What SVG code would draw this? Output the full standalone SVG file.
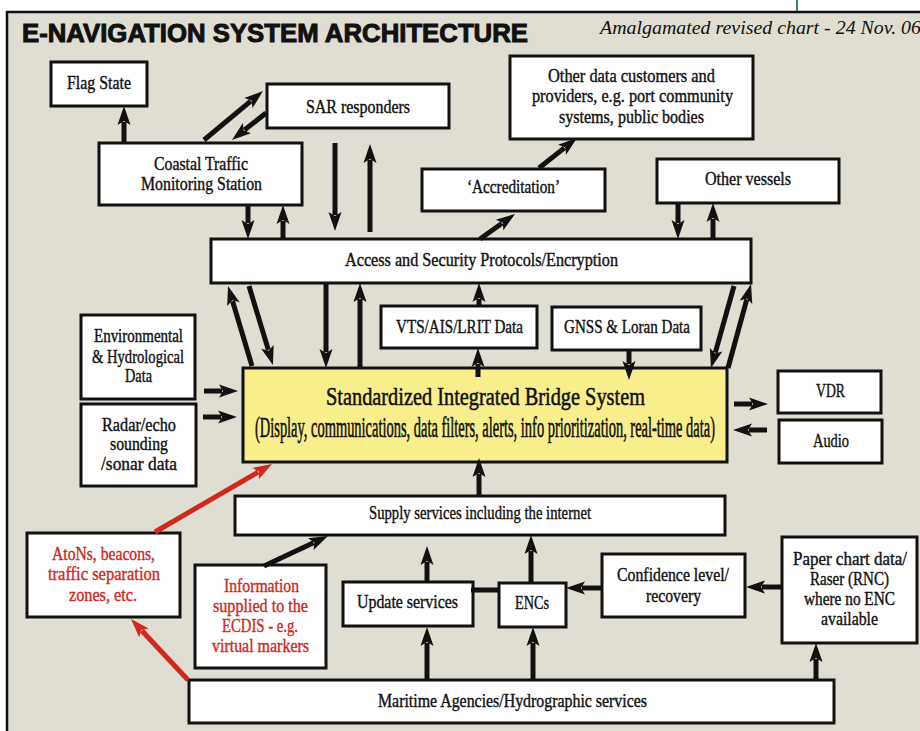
<svg xmlns="http://www.w3.org/2000/svg" width="920" height="731" viewBox="0 0 920 731">
<style>
.box{fill:#fff;stroke:#111;stroke-width:3}
.sibs{fill:#f8ef8c;stroke:#111;stroke-width:3}
.t{font-family:"Liberation Serif","Times New Roman",serif;font-size:19px;fill:#111;stroke:#111;stroke-width:0.4}
.red{fill:#cc2a1e;stroke:#cc2a1e}
.c{stroke:#111;stroke-width:5;fill:none;marker-end:url(#ah)}
.cr{stroke:#d0281c;stroke-width:5;fill:none;marker-end:url(#ahr)}
</style>
<defs>
<marker id="ah" markerUnits="userSpaceOnUse" viewBox="-20 -20 40 40" markerWidth="40" markerHeight="40" refX="0" refY="0" orient="auto" overflow="visible">
<path d="M16,0 L-3,-6.5 L1,0 L-3,6.5 Z" fill="#111"/>
</marker>
<marker id="ahr" markerUnits="userSpaceOnUse" viewBox="-20 -20 40 40" markerWidth="40" markerHeight="40" refX="0" refY="0" orient="auto" overflow="visible">
<path d="M16,0 L-3,-6.5 L1,0 L-3,6.5 Z" fill="#d0281c"/>
</marker>
</defs>
<rect x="0" y="0" width="920" height="731" fill="#fff"/>
<rect x="7" y="12" width="940" height="740" fill="#e0ddd2" stroke="#111" stroke-width="2.5"/>
<line x1="797" y1="0" x2="797" y2="11" stroke="#3d7f75" stroke-width="2"/>
<text x="22" y="42" font-family="'Liberation Sans',Arial,sans-serif" font-weight="bold" font-size="26.5" textLength="506" lengthAdjust="spacingAndGlyphs" fill="#111" stroke="#111" stroke-width="1">E-NAVIGATION SYSTEM ARCHITECTURE</text>
<text x="600" y="34" font-family="'Liberation Serif','Times New Roman',serif" font-style="italic" font-size="19" textLength="321" lengthAdjust="spacingAndGlyphs" fill="#111">Amalgamated revised chart - 24 Nov. 06</text>

<g id="flag-state"><rect class="box" x="51" y="62" width="96" height="44"/><text class="t" x="67" y="89" textLength="64" lengthAdjust="spacingAndGlyphs">Flag State</text></g>
<g id="sar-responders"><rect class="box" x="267" y="84" width="182" height="44"/><text class="t" x="306" y="113" textLength="104" lengthAdjust="spacingAndGlyphs">SAR responders</text></g>
<g id="coastal-traffic"><rect class="box" x="99" y="143" width="203" height="62"/><text class="t" x="154" y="170" textLength="94" lengthAdjust="spacingAndGlyphs">Coastal Traffic</text><text class="t" x="141" y="190" textLength="121" lengthAdjust="spacingAndGlyphs">Monitoring Station</text></g>
<g id="other-data"><rect class="box" x="510" y="56" width="243" height="83"/><text class="t" x="548" y="82" textLength="167" lengthAdjust="spacingAndGlyphs">Other data customers and</text><text class="t" x="532" y="102" textLength="201" lengthAdjust="spacingAndGlyphs">providers, e.g. port community</text><text class="t" x="559" y="123" textLength="145" lengthAdjust="spacingAndGlyphs">systems, public bodies</text></g>
<g id="accreditation"><rect class="box" x="422" y="169" width="183" height="42"/><text class="t" x="467" y="193" textLength="93" lengthAdjust="spacingAndGlyphs">‘Accreditation’</text></g>
<g id="other-vessels"><rect class="box" x="657" y="159" width="182" height="44"/><text class="t" x="705" y="185" textLength="86" lengthAdjust="spacingAndGlyphs">Other vessels</text></g>
<g id="access-security"><rect class="box" x="211" y="239" width="540" height="44"/><text class="t" x="345" y="266" textLength="273" lengthAdjust="spacingAndGlyphs">Access and Security Protocols/Encryption</text></g>
<g id="vts-ais-lrit"><rect class="box" x="381" y="306" width="156" height="42"/><text class="t" x="396" y="333" textLength="127" lengthAdjust="spacingAndGlyphs">VTS/AIS/LRIT Data</text></g>
<g id="gnss-loran"><rect class="box" x="552" y="307" width="149" height="43"/><text class="t" x="564" y="333" textLength="126" lengthAdjust="spacingAndGlyphs">GNSS &amp; Loran Data</text></g>
<g id="environmental"><rect class="box" x="81" y="315" width="114" height="84"/><text class="t" x="94" y="342" textLength="89" lengthAdjust="spacingAndGlyphs">Environmental</text><text class="t" x="92" y="363" textLength="92" lengthAdjust="spacingAndGlyphs">&amp; Hydrological</text><text class="t" x="125" y="382" textLength="27" lengthAdjust="spacingAndGlyphs">Data</text></g>
<g id="radar-echo"><rect class="box" x="81" y="404" width="115" height="82"/><text class="t" x="102" y="431" textLength="74" lengthAdjust="spacingAndGlyphs">Radar/echo</text><text class="t" x="110" y="450" textLength="58" lengthAdjust="spacingAndGlyphs">sounding</text><text class="t" x="101" y="470" textLength="76" lengthAdjust="spacingAndGlyphs">/sonar data</text></g>
<g id="sibs"><rect class="sibs" x="243" y="368" width="484" height="94"/><text class="t" transform="translate(326,405) scale(1,1.36)" x="0" y="0" font-size="22" stroke-width="0.6" textLength="319" lengthAdjust="spacingAndGlyphs">Standardized Integrated Bridge System</text><text class="t" transform="translate(255,437) scale(1,1.5)" x="0" y="0" font-size="12" stroke-width="0.3" textLength="460" lengthAdjust="spacingAndGlyphs">(Display, communications, data filters, alerts, info prioritization, real-time data)</text></g>
<g id="vdr"><rect class="box" x="778" y="371" width="103" height="42"/><text class="t" x="816" y="397" textLength="29" lengthAdjust="spacingAndGlyphs">VDR</text></g>
<g id="audio"><rect class="box" x="779" y="420" width="103" height="43"/><text class="t" x="813" y="447" textLength="36" lengthAdjust="spacingAndGlyphs">Audio</text></g>
<g id="supply-services"><rect class="box" x="235" y="496" width="490" height="39"/><text class="t" x="369" y="519" textLength="222" lengthAdjust="spacingAndGlyphs">Supply services including the internet</text></g>
<g id="atons"><rect class="box" x="27" y="533" width="153" height="84"/><text class="t red" x="52" y="560" textLength="103" lengthAdjust="spacingAndGlyphs">AtoNs, beacons,</text><text class="t red" x="48" y="580" textLength="112" lengthAdjust="spacingAndGlyphs">traffic separation</text><text class="t red" x="69" y="601" textLength="68" lengthAdjust="spacingAndGlyphs">zones, etc.</text></g>
<g id="information-ecdis"><rect class="box" x="195" y="565" width="131" height="103"/><text class="t red" x="224" y="592" textLength="75" lengthAdjust="spacingAndGlyphs">Information</text><text class="t red" x="213" y="612" textLength="95" lengthAdjust="spacingAndGlyphs">supplied to the</text><text class="t red" x="222" y="632" textLength="76" lengthAdjust="spacingAndGlyphs">ECDIS - e.g.</text><text class="t red" x="212" y="652" textLength="97" lengthAdjust="spacingAndGlyphs">virtual markers</text></g>
<g id="update-services"><rect class="box" x="343" y="582" width="130" height="44"/><text class="t" x="357" y="608" textLength="101" lengthAdjust="spacingAndGlyphs">Update services</text></g>
<g id="encs"><rect class="box" x="499" y="583" width="67" height="44"/><text class="t" x="515" y="609" textLength="34" lengthAdjust="spacingAndGlyphs">ENCs</text></g>
<g id="confidence-level"><rect class="box" x="602" y="554" width="143" height="63"/><text class="t" x="617" y="581" textLength="112" lengthAdjust="spacingAndGlyphs">Confidence level/</text><text class="t" x="646" y="602" textLength="55" lengthAdjust="spacingAndGlyphs">recovery</text></g>
<g id="paper-chart"><rect class="box" x="782" y="537" width="135" height="106"/><text class="t" x="793" y="565" textLength="114" lengthAdjust="spacingAndGlyphs">Paper chart data/</text><text class="t" x="810" y="585" textLength="79" lengthAdjust="spacingAndGlyphs">Raser (RNC)</text><text class="t" x="804" y="605" textLength="91" lengthAdjust="spacingAndGlyphs">where no ENC</text><text class="t" x="821" y="625" textLength="57" lengthAdjust="spacingAndGlyphs">available</text></g>
<g id="maritime-agencies"><rect class="box" x="189" y="680" width="645" height="43"/><text class="t" x="378" y="707" textLength="269" lengthAdjust="spacingAndGlyphs">Maritime Agencies/Hydrographic services</text></g>

<g id="connectors">
<line class="c" x1="124" y1="143" x2="124" y2="122"/>
<line class="c" x1="204" y1="140" x2="250.7" y2="101.2"/>
<line class="c" x1="266" y1="113" x2="244.5" y2="130"/>
<line class="c" x1="335" y1="143" x2="335" y2="215"/>
<line class="c" x1="370" y1="232" x2="370" y2="160"/>
<line class="c" x1="248" y1="205" x2="248" y2="223"/>
<line class="c" x1="283" y1="239" x2="283" y2="221"/>
<line class="c" x1="480" y1="239" x2="502" y2="223.3"/>
<line class="c" x1="539" y1="168" x2="564.4" y2="147.9"/>
<line class="c" x1="678" y1="203" x2="678" y2="223"/>
<line class="c" x1="713" y1="239" x2="713" y2="219"/>
<line class="c" x1="252" y1="366" x2="232.6" y2="301.3"/>
<line class="c" x1="249" y1="286" x2="268.3" y2="349.7"/>
<line class="c" x1="326" y1="283" x2="326" y2="352"/>
<line class="c" x1="360" y1="368" x2="360" y2="299"/>
<line class="c" x1="478" y1="377" x2="478" y2="364"/>
<line class="c" x1="479" y1="306" x2="479" y2="299"/>
<line class="c" x1="629" y1="350" x2="629" y2="364"/>
<line class="c" x1="734" y1="286" x2="715.3" y2="352.6"/>
<line class="c" x1="728" y1="368" x2="746.8" y2="299.4"/>
<line class="c" x1="204" y1="391" x2="222" y2="391"/>
<line class="c" x1="203" y1="417" x2="221" y2="417"/>
<line class="c" x1="734" y1="404" x2="752" y2="404"/>
<line class="c" x1="767" y1="430" x2="749" y2="430"/>
<line class="c" x1="479" y1="496" x2="479" y2="474"/>
<line class="cr" x1="155" y1="532" x2="258.2" y2="472"/>
<line class="cr" x1="188" y1="680" x2="141.9" y2="630.7"/>
<line class="c" x1="264" y1="566" x2="313.5" y2="542.8"/>
<line class="c" x1="427" y1="582" x2="427" y2="562"/>
<line class="c" x1="427" y1="680" x2="427" y2="643"/>
<line class="c" x1="531" y1="583" x2="531" y2="551"/>
<line class="c" x1="533" y1="680" x2="533" y2="643"/>
<line class="c" x1="602" y1="588" x2="582" y2="588"/>
<line class="c" x1="782" y1="587" x2="762" y2="587"/>
<line class="c" x1="816" y1="680" x2="816" y2="659"/>
<line x1="471" y1="590" x2="500" y2="590" stroke="#111" stroke-width="5"/>
</g>
</svg>
